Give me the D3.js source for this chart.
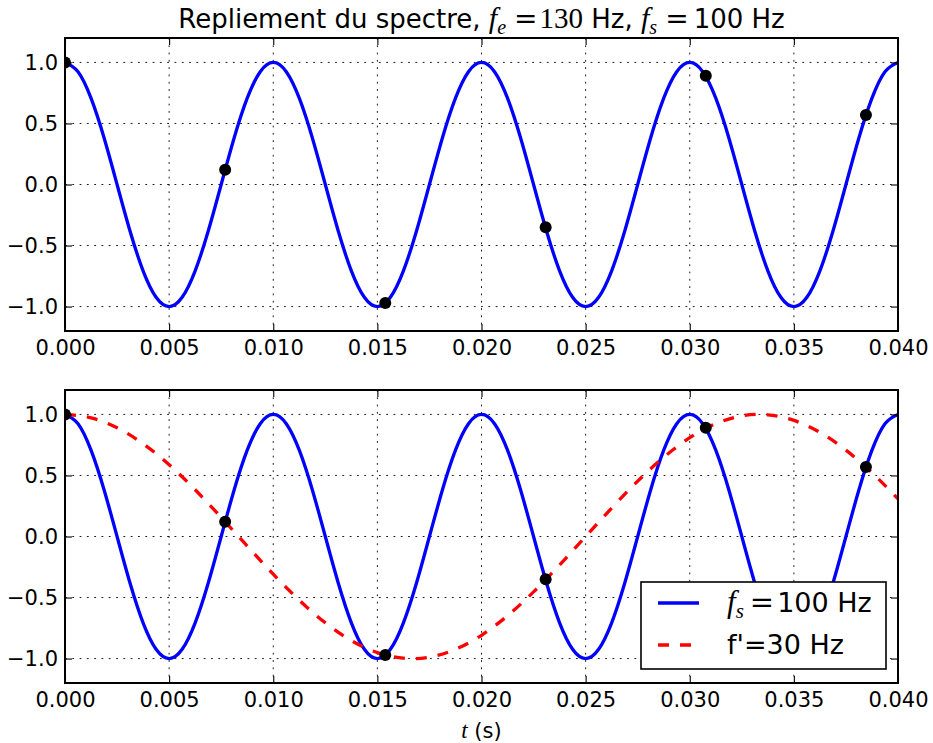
<!DOCTYPE html>
<html>
<head>
<meta charset="utf-8">
<script src="https://cdn.jsdelivr.net/npm/d3@7"></script>
<style>
  html, body { margin: 0; padding: 0; background: #fff; }
  svg { display: block; }
  text { white-space: pre; }
</style>
</head>
<body>
<svg id="chart" width="933" height="743"></svg>
<script>
// Signal at 100 Hz, sampled every 0.000625 s from t = 0 to t = 0.04 s
const signalStep = 0.000625;
const signalValues = [
  1, 0.924, 0.707, 0.383, 0, -0.383, -0.707, -0.924, -1, -0.924, -0.707, -0.383, 0, 0.383, 0.707, 0.924,
  1, 0.924, 0.707, 0.383, 0, -0.383, -0.707, -0.924, -1, -0.924, -0.707, -0.383, 0, 0.383, 0.707, 0.924,
  1, 0.924, 0.707, 0.383, 0, -0.383, -0.707, -0.924, -1, -0.924, -0.707, -0.383, 0, 0.383, 0.707, 0.924,
  1, 0.924, 0.707, 0.383, 0, -0.383, -0.707, -0.924, -1, -0.924, -0.707, -0.383, 0, 0.383, 0.707, 0.924,
  1
];

// Alias at 30 Hz, every 0.00125 s
const aliasStep = 0.00125;
const aliasValues = [
  1, 0.972, 0.891, 0.760, 0.588, 0.383, 0.156, -0.078, -0.309, -0.522, -0.707,
  -0.853, -0.951, -0.997, -0.988, -0.924, -0.809, -0.649, -0.454, -0.233, 0,
  0.233, 0.454, 0.649, 0.809, 0.924, 0.988, 0.997, 0.951, 0.853, 0.707, 0.522, 0.309
];

// Samples taken at 130 Hz
const sampleTimes = [0, 0.00769, 0.01538, 0.02308, 0.03077, 0.03846];
const sampleValues = [1.0, 0.12, -0.97, -0.35, 0.89, 0.57];

const xTicks = [0, 0.005, 0.01, 0.015, 0.02, 0.025, 0.03, 0.035, 0.04];
const yTicks = [-1, -0.5, 0, 0.5, 1];
const xDomain = [0, 0.04];
const yDomain = [-1.2, 1.2];

const legendLabels = ["100 Hz", "f'=30 Hz"];

const svg = d3.select("#chart");
const SANS = "'DejaVu Sans', sans-serif";
const SERIF = "'Liberation Serif', 'DejaVu Serif', serif";
const EQ = "'DejaVu Serif', serif";
const tickFont = 21;

const left = 65, right = 898;
const panels = [
  { top: 38, bottom: 331, alias: false },
  { top: 390, bottom: 683, alias: true }
];

const x = d3.scaleLinear().domain(xDomain).range([left, right]);
const signalPts = signalValues.map((v, i) => [i * signalStep, v]);
const aliasPts = aliasValues.map((v, i) => [i * aliasStep, v]);
const samplePts = sampleTimes.map((t, i) => [t, sampleValues[i]]);

// "f" with a subscript followed by "=", in math style
function mathF(textSel, sub, size, subSize, shift, eqGap) {
  textSel.append("tspan").style("font-family", SERIF).style("font-style", "italic")
    .style("font-size", size + "px").text("f");
  textSel.append("tspan").style("font-family", SERIF).style("font-style", "italic")
    .style("font-size", subSize + "px").attr("dy", shift).text(sub);
  textSel.append("tspan").style("font-family", EQ).style("font-size", (size - 2) + "px")
    .attr("dy", -shift).attr("dx", eqGap).text("=");
}

panels.forEach((p, idx) => {
  const y = d3.scaleLinear().domain(yDomain).range([p.bottom, p.top]);
  const g = svg.append("g");

  const clipId = "clip" + idx;
  svg.append("clipPath").attr("id", clipId)
    .append("rect")
    .attr("x", left).attr("y", p.top)
    .attr("width", right - left).attr("height", p.bottom - p.top);

  // grid
  const grid = g.append("g")
    .attr("stroke", "#000").attr("stroke-width", 0.9)
    .attr("stroke-dasharray", "1.8,5.5");
  grid.selectAll(".gx").data(xTicks).join("line")
    .attr("x1", d => x(d)).attr("x2", d => x(d))
    .attr("y1", p.top).attr("y2", p.bottom);
  grid.selectAll(".gy").data(yTicks).join("line")
    .attr("y1", d => y(d)).attr("y2", d => y(d))
    .attr("x1", left).attr("x2", right);

  const line = d3.line()
    .x(d => x(d[0])).y(d => y(d[1]))
    .curve(d3.curveNatural);

  const plot = g.append("g").attr("clip-path", `url(#${clipId})`);
  plot.append("path")
    .attr("d", line(signalPts))
    .attr("fill", "none").attr("stroke", "#0000ff")
    .attr("stroke-width", 3.3);
  if (p.alias) {
    plot.append("path")
      .attr("d", line(aliasPts))
      .attr("fill", "none").attr("stroke", "#ff0000")
      .attr("stroke-width", 3.3)
      .attr("stroke-dasharray", "11,11");
  }
  plot.selectAll("circle").data(samplePts).join("circle")
    .attr("cx", d => x(d[0])).attr("cy", d => y(d[1]))
    .attr("r", 6).attr("fill", "#000");

  // axes with inward ticks
  const fmtX = d3.format(".3f");
  const fmtY = d3.format(".1f");
  const axB = g.append("g").attr("transform", `translate(0,${p.bottom})`)
    .call(d3.axisBottom(x).tickValues(xTicks).tickFormat(fmtX)
      .tickSizeInner(-7).tickSizeOuter(0).tickPadding(9));
  const axT = g.append("g").attr("transform", `translate(0,${p.top})`)
    .call(d3.axisTop(x).tickValues(xTicks).tickFormat("")
      .tickSizeInner(-7).tickSizeOuter(0));
  const axL = g.append("g").attr("transform", `translate(${left},0)`)
    .call(d3.axisLeft(y).tickValues(yTicks).tickFormat(fmtY)
      .tickSizeInner(-7).tickSizeOuter(0).tickPadding(7));
  const axR = g.append("g").attr("transform", `translate(${right},0)`)
    .call(d3.axisRight(y).tickValues(yTicks).tickFormat("")
      .tickSizeInner(-7).tickSizeOuter(0));
  [axB, axT, axL, axR].forEach(a => {
    a.select(".domain").remove();
    a.selectAll(".tick line").attr("stroke", "#000").attr("stroke-width", 1.1);
    a.selectAll("text").attr("fill", "#000")
      .style("font-family", SANS).style("font-size", tickFont + "px");
  });

  // spines
  g.append("rect")
    .attr("x", left).attr("y", p.top)
    .attr("width", right - left).attr("height", p.bottom - p.top)
    .attr("fill", "none").attr("stroke", "#000").attr("stroke-width", 2);

  if (p.alias) {
    const lg = g.append("g");
    lg.append("rect")
      .attr("x", 641).attr("y", 582).attr("width", 245).attr("height", 87)
      .attr("fill", "#fff").attr("stroke", "#000").attr("stroke-width", 1.6);
    lg.append("line").attr("x1", 658).attr("x2", 699).attr("y1", 603).attr("y2", 603)
      .attr("stroke", "#0000ff").attr("stroke-width", 3.3);
    lg.append("line").attr("x1", 658).attr("x2", 699).attr("y1", 645).attr("y2", 645)
      .attr("stroke", "#ff0000").attr("stroke-width", 3.3)
      .attr("stroke-dasharray", "11,11");
    const t1 = lg.append("text").attr("x", 727).attr("y", 612)
      .style("font-family", SANS).style("font-size", "27px");
    mathF(t1, "s", 31, 21, 6, 6);
    t1.append("tspan").attr("dx", 3).text(legendLabels[0]);
    lg.append("text").attr("x", 727).attr("y", 654)
      .style("font-family", SANS).style("font-size", "27px")
      .text(legendLabels[1]);
  }
});

// title
const title = svg.append("text")
  .attr("x", (left + right) / 2).attr("y", 28)
  .attr("text-anchor", "middle")
  .style("font-family", SANS).style("font-size", "26px");
title.append("tspan").text("Repliement du spectre, ");
mathF(title, "e", 30, 20, 6, 8);
title.append("tspan").style("font-family", SERIF).style("font-size", "29px")
  .attr("dx", 2).text("130");
title.append("tspan").text(" Hz, ");
mathF(title, "s", 30, 20, 6, 8);
title.append("tspan").attr("dx", 5).text("100 Hz");

// x-axis label
const xl = svg.append("text")
  .attr("x", (left + right) / 2).attr("y", 738)
  .attr("text-anchor", "middle")
  .style("font-family", SANS).style("font-size", tickFont + "px");
xl.append("tspan").style("font-family", SERIF).style("font-style", "italic")
  .style("font-size", "23px").text("t");
xl.append("tspan").text(" (s)");
</script>
</body>
</html>
